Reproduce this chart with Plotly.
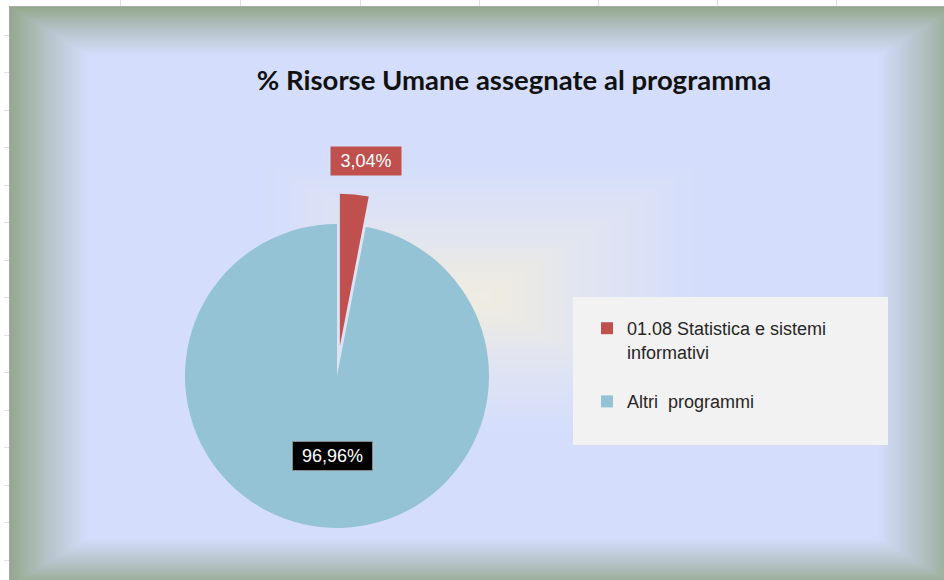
import base64
import struct
import zlib

import numpy as np
import plotly.graph_objects as go

# ---- data -------------------------------------------------------------
programmi = ["01.08 Statistica e sistemi<br>informativi<br> ", "Altri  programmi"]
quote = [3.04, 96.96]
colori = ["#c0504d", "#93c3d4"]
titolo = "% Risorse Umane assegnate al programma"

W, H = 944, 580


# ---- background: rectangular path gradient (bevel frame + soft centre glow)
def png_data_uri(rgb):
    h, w, _ = rgb.shape
    raw = b"".join(b"\x00" + rgb[r].tobytes() for r in range(h))

    def chunk(tag, data):
        body = tag + data
        return struct.pack(">I", len(data)) + body + struct.pack(">I", zlib.crc32(body) & 0xFFFFFFFF)

    png = (b"\x89PNG\r\n\x1a\n"
           + chunk(b"IHDR", struct.pack(">IIBBBBB", w, h, 8, 2, 0, 0, 0))
           + chunk(b"IDAT", zlib.compress(raw, 9))
           + chunk(b"IEND", b""))
    return "data:image/png;base64," + base64.b64encode(png).decode()


def hex_rgb(h):
    h = h.lstrip("#")
    return [int(h[i:i + 2], 16) for i in (0, 2, 4)]


yy, xx = np.mgrid[0:H, 0:W].astype(float)
x0, y0, x1, y1 = 10, 7, 956, 586
cx, cy = (x0 + x1) / 2, (y0 + y1) / 2
hw, hh = (x1 - x0) / 2, (y1 - y0) / 2
d = np.maximum(np.abs(xx + 0.5 - cx) / hw, np.abs(yy + 0.5 - cy) / hh)

stops = [0.0, 0.06, 0.2, 0.46, 0.835, 0.93, 1.0]
cols = [hex_rgb(c) for c in ["#f0eee1", "#edebe4", "#e3e6f0", "#d4defc",
                             "#d4defc", "#b3c0c2", "#93a98c"]]
img = np.zeros((H, W, 3))
for ch in range(3):
    img[..., ch] = np.interp(d, stops, [c[ch] for c in cols])

# sheet margin outside the chart area with its faint grid ticks
outside = (xx < x0) | (yy < y0)
img[outside] = 255
for gx in (120, 240, 360, 479, 598, 717, 836):
    img[0:y0 - 1, gx] = 225
for gy in (35, 72, 110, 147, 185, 222, 260, 297, 335, 372, 410, 447, 485, 522, 560):
    img[gy, 4:x0 - 1] = 225
img[y0 - 1, x0 - 1:] = 170
img[y0 - 1:, x0 - 1] = 170
bg_uri = png_data_uri(np.clip(img, 0, 255).astype(np.uint8))

# ---- pie ---------------------------------------------------------------
pull = [0.2, 0.0]
pie_cx, pie_cy, pie_r = 337, 376, 152
half = pie_r * (1 + max(pull))
dom_x = [(pie_cx - half) / W, (pie_cx + half) / W]
dom_y = [(H - pie_cy - half) / H, (H - pie_cy + half) / H]

fig = go.Figure(
    go.Pie(
        labels=programmi,
        values=quote,
        marker=dict(colors=colori, line=dict(width=0)),
        pull=pull,
        sort=False,
        direction="clockwise",
        rotation=0,
        textinfo="none",
        hoverinfo="label+percent",
        domain=dict(x=dom_x, y=dom_y),
    )
)


def pct(v):
    return f"{v:.2f}%".replace(".", ",")


label_font = dict(family="Liberation Sans, Arial, sans-serif", size=18, color="white")
fig.add_annotation(x=366 / W, y=1 - 161 / H, xref="paper", yref="paper",
                   xanchor="center", yanchor="middle",
                   text=pct(quote[0]), showarrow=False, font=label_font,
                   bgcolor=colori[0], width=62, height=20, borderpad=4)
fig.add_annotation(x=332.5 / W, y=1 - 456 / H, xref="paper", yref="paper",
                   xanchor="center", yanchor="middle",
                   text=pct(quote[1]), showarrow=False, font=label_font,
                   bgcolor="black", bordercolor="#8a8a8a", borderwidth=1,
                   width=71, height=20, borderpad=4)

# legend panel
fig.add_shape(type="rect", xref="paper", yref="paper",
              x0=573 / W, x1=888 / W, y0=1 - 445 / H, y1=1 - 297 / H,
              fillcolor="#f2f2f2", line=dict(width=0), layer="below")

fig.add_layout_image(source=bg_uri, xref="paper", yref="paper", x=0, y=1,
                     sizex=1, sizey=1, sizing="stretch", xanchor="left",
                     yanchor="top", layer="below")

fig.update_layout(
    width=W,
    height=H,
    margin=dict(l=0, r=0, t=0, b=0),
    paper_bgcolor="#d4defc",
    plot_bgcolor="rgba(0,0,0,0)",
    title=dict(text=f"<b>{titolo}</b>", x=514 / W, y=1 - 80 / H,
               xanchor="center", yanchor="middle",
               font=dict(family="Lato, sans-serif", size=27.5, color="#111111")),
    legend=dict(x=587 / W, y=1 - 310 / H, xanchor="left", yanchor="top",
                bgcolor="rgba(0,0,0,0)", valign="top", itemwidth=30,
                font=dict(family="Liberation Sans, Arial, sans-serif", size=18, color="#262626")),
)

fig.write_html("out.html")
